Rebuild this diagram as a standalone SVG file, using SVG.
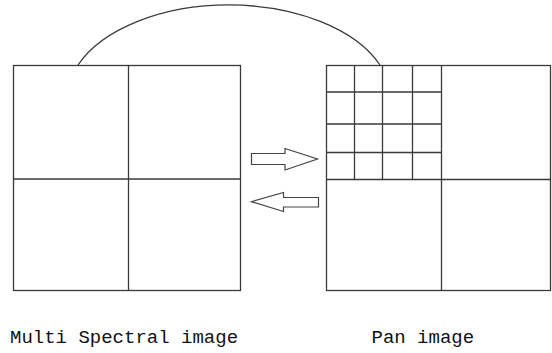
<svg xmlns="http://www.w3.org/2000/svg" width="552" height="353" viewBox="0 0 552 353">
<style>
.ln{fill:none;stroke:#3a3a3a;stroke-width:1.3}
.ar{fill:#fff;stroke:#444;stroke-width:1.2;stroke-linejoin:miter}
.lbl{font-family:"Liberation Mono","DejaVu Sans Mono",monospace;font-size:19px;fill:#111}
</style>
<rect width="552" height="353" fill="#fff"/>
<g id="ms-image">
<rect class="ln" x="13.5" y="65.5" width="227" height="225"/>
<line class="ln" x1="128.5" y1="65.5" x2="128.5" y2="290.5"/>
<line class="ln" x1="13.5" y1="179" x2="240.5" y2="179"/>
</g>
<g id="pan-image">
<rect class="ln" x="326.5" y="65.5" width="224" height="225"/>
<line class="ln" x1="441.5" y1="65.5" x2="441.5" y2="290.5"/>
<line class="ln" x1="326.5" y1="179.5" x2="550.5" y2="179.5"/>
<line class="ln" x1="354.5" y1="65.5" x2="354.5" y2="179.5"/>
<line class="ln" x1="382.5" y1="65.5" x2="382.5" y2="179.5"/>
<line class="ln" x1="412.5" y1="65.5" x2="412.5" y2="179.5"/>
<line class="ln" x1="326.5" y1="92" x2="441.5" y2="92"/>
<line class="ln" x1="326.5" y1="124" x2="441.5" y2="124"/>
<line class="ln" x1="326.5" y1="152.5" x2="441.5" y2="152.5"/>
</g>
<g id="connectors">
<path class="ln" stroke="#555" d="M78,65 A162.4,95 0 0 1 380,65"/>
<polygon class="ar" points="251.5,153.5 285,153.5 285,148.5 317.5,159 285,170 285,164.5 251.5,164.5"/>
<polygon class="ar" points="318.5,197.5 283.5,197.5 283.5,192.5 251.5,201.7 283.5,211.5 283.5,207 318.5,207"/>
</g>
<g id="labels">
<text class="lbl" x="10" y="343">Multi Spectral image</text>
<text class="lbl" x="371.5" y="343">Pan image</text>
</g>
</svg>
